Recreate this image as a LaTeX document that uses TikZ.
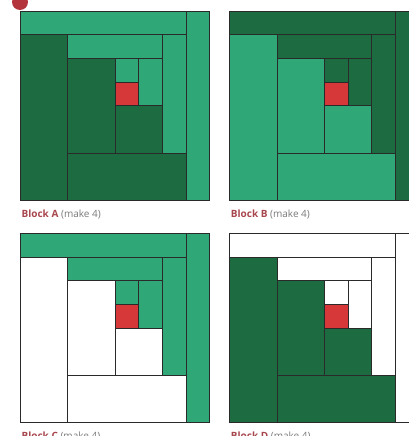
\documentclass[tikz,border=0pt]{standalone}
\usepackage{fontspec}
\setmainfont{Open Sans}
\definecolor{darkgreen}{HTML}{1D6B40}
\definecolor{lightgreen}{HTML}{2FA777}
\definecolor{centrered}{HTML}{D6383A}
\definecolor{seamgray}{HTML}{2A2A2A}
\definecolor{labelred}{HTML}{A8464E}
\definecolor{labelgray}{HTML}{7A7A7A}
\definecolor{badgered}{HTML}{B3353B}
\tikzset{
  patch/.style={draw=seamgray, line width=0.7pt},
  blocklabel/.style={anchor=base west, inner sep=0pt,
    font=\fontsize{10}{12}\selectfont, text=labelgray}
}
% #1 top-left corner, #2 top/right logs, #3 bottom/left logs, #4 letter
\newcommand{\logcabin}[4]{
  \begin{scope}[shift={#1}, x=23.65pt, y=-23.65pt]
    \foreach \a/\b/\c/\d in {4/2/5/3, 5/2/6/4, 2/1/6/2, 6/1/7/6, 0/0/7/1, 7/0/8/8}
      \filldraw[patch, fill=#2] (\a,\b) rectangle (\c,\d);
    \foreach \a/\b/\c/\d in {4/4/6/6, 2/2/4/6, 2/6/7/8, 0/1/2/8}
      \filldraw[patch, fill=#3] (\a,\b) rectangle (\c,\d);
    \filldraw[patch, fill=centrered] (4,3) rectangle (5,4);
    \node[blocklabel] (label#4) at (0.04,8.72)
      {\textcolor{labelred}{\bfseries Block #4} (make 4)};
  \end{scope}
}

\begin{document}
\begin{tikzpicture}[x=1pt, y=1pt]
\useasboundingbox (0,0) rectangle (409,436);
\clip (0,0) rectangle (409,436);
\fill[white] (0,0) rectangle (409,436);
\logcabin{(20.5,425)}{lightgreen}{darkgreen}{A}
\logcabin{(229.8,425)}{darkgreen}{lightgreen}{B}
\logcabin{(20.5,202.5)}{lightgreen}{white}{C}
\logcabin{(229.8,202.5)}{white}{darkgreen}{D}
\fill[badgered] (20,434) circle (8);
\end{tikzpicture}
\end{document}
